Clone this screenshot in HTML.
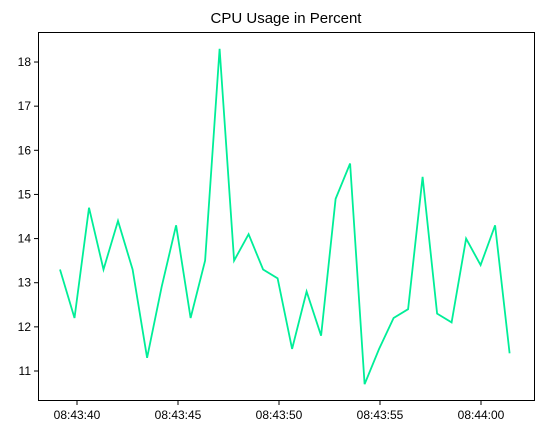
<!DOCTYPE html>
<html><head><meta charset="utf-8"><style>body{margin:0;background:#fff}svg{display:block;font-family:"Liberation Sans",sans-serif}</style></head>
<body>
<svg id="chart" width="543" height="435">
<text x="286" y="23" text-anchor="middle" font-size="15">CPU Usage in Percent</text>
<rect x="38.5" y="32.5" width="496" height="368" fill="none" stroke="#000" stroke-width="1"/>
<g id="axes"></g>
<polyline id="line" fill="none" stroke="#00ee98" stroke-width="1.8"/>
</svg>
<script>
const startSec = 39.16;
const stepSec = 0.718;
const values = [13.3,12.2,14.7,13.3,14.4,13.3,11.3,12.9,14.3,12.2,13.5,18.3,13.5,14.1,13.3,13.1,11.5,12.8,11.8,14.9,15.7,10.7,11.5,12.2,12.4,15.4,12.3,12.1,14.0,13.4,14.3,11.4];
const yTicks = [11,12,13,14,15,16,17,18];
const xTickSecs = [40,45,50,55,60];
const xTickLabels = ["08:43:40","08:43:45","08:43:50","08:43:55","08:44:00"];
const xs = s => 77 + (s-40)*20.2;
const ys = v => 371 - (v-11)*44.14;
const ns="http://www.w3.org/2000/svg";
const g=document.getElementById('axes');
yTicks.forEach(v=>{
  const y=ys(v);
  const l=document.createElementNS(ns,'line');
  l.setAttribute('x1',34);l.setAttribute('x2',38);l.setAttribute('y1',y);l.setAttribute('y2',y);l.setAttribute('stroke','#000');
  
  
  g.appendChild(l);
  const t=document.createElementNS(ns,'text');
  t.setAttribute('x',31);t.setAttribute('y',y+4);t.setAttribute('text-anchor','end');t.setAttribute('font-size','12');
  t.textContent=v;
  
  
  g.appendChild(t);
});
xTickSecs.forEach((s,i)=>{
  const x=xs(s);
  const l=document.createElementNS(ns,'line');
  l.setAttribute('x1',x);l.setAttribute('x2',x);l.setAttribute('y1',401);l.setAttribute('y2',405);l.setAttribute('stroke','#000');
  
  
  g.appendChild(l);
  const t=document.createElementNS(ns,'text');
  t.setAttribute('x',x);t.setAttribute('y',419);t.setAttribute('text-anchor','middle');t.setAttribute('font-size','12');
  t.textContent=xTickLabels[i];
  
  
  g.appendChild(t);
});
document.getElementById('line').setAttribute('points',values.map((v,i)=>xs(startSec+i*stepSec).toFixed(1)+','+ys(v).toFixed(1)).join(' '));
</script>
</body></html>
